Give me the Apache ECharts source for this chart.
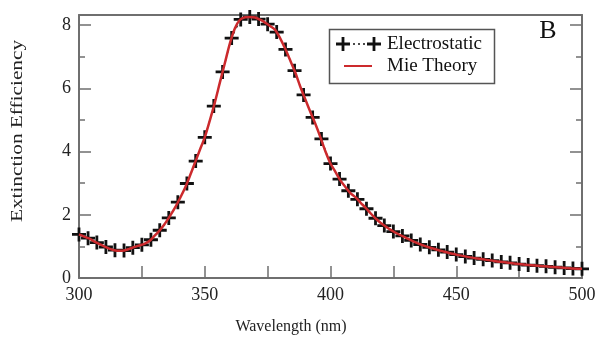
<!DOCTYPE html>
<html>
<head>
<meta charset="utf-8">
<script src="https://cdn.jsdelivr.net/npm/echarts@6/dist/echarts.min.js"></script>
<style>
html,body{margin:0;padding:0;background:#fff;}
#chart{width:600px;height:341px;}
</style>
</head>
<body>
<div id="chart"></div>
<script>
// Electrostatic (markers)
var esWavelength = [300.0,303.6,307.1,310.7,314.3,317.9,321.4,325.0,328.6,332.1,335.7,339.3,342.9,346.4,350.0,353.6,357.1,360.7,364.3,367.9,371.4,375.0,378.6,382.1,385.7,389.3,392.9,396.4,400.0,403.6,407.1,410.7,414.3,417.9,421.4,425.0,428.6,432.1,435.7,439.3,442.9,446.4,450.0,453.6,457.1,460.7,464.3,467.9,471.4,475.0,478.6,482.1,485.7,489.3,492.9,496.4,500.0];
var esValues = [1.38,1.26,1.12,0.98,0.88,0.87,0.96,1.05,1.21,1.51,1.90,2.40,2.99,3.70,4.45,5.44,6.52,7.59,8.18,8.26,8.19,8.03,7.78,7.23,6.56,5.79,5.08,4.40,3.62,3.13,2.76,2.49,2.19,1.89,1.66,1.47,1.33,1.19,1.06,0.97,0.89,0.82,0.74,0.68,0.63,0.59,0.55,0.51,0.48,0.44,0.41,0.39,0.37,0.34,0.32,0.30,0.29];
// Mie theory (line)
var mieWavelength = [300,302,304,306,308,310,312,314,316,318,320,322,324,326,328,330,332,334,336,338,340,342,344,346,348,350,352,354,356,358,360,362,364,366,368,370,372,374,376,378,380,382,384,386,388,390,392,394,396,398,400,402,404,406,408,410,412,414,416,418,420,425,430,435,440,445,450,455,460,465,470,475,480,485,490,495,500];
var mieValues = [1.38,1.31,1.25,1.16,1.08,1.00,0.93,0.88,0.86,0.87,0.92,0.98,1.03,1.08,1.17,1.33,1.50,1.70,1.94,2.20,2.50,2.82,3.21,3.62,4.04,4.45,4.98,5.55,6.18,6.80,7.42,7.90,8.17,8.25,8.26,8.24,8.17,8.08,7.97,7.85,7.58,7.25,6.88,6.50,6.05,5.65,5.25,4.87,4.45,4.00,3.62,3.35,3.08,2.87,2.68,2.55,2.38,2.22,2.04,1.88,1.74,1.47,1.27,1.09,0.95,0.84,0.74,0.66,0.60,0.54,0.49,0.44,0.40,0.37,0.34,0.31,0.29];
var xTickLabels = [300,350,400,450,500];
var yTickLabels = [0,2,4,6,8];
var seriesNames = ['Electrostatic','Mie Theory'];

var esData = esWavelength.map(function(x,i){return [x, esValues[i]];});
var mieData = mieWavelength.map(function(x,i){return [x, mieValues[i]];});

var serif = "'Liberation Serif','DejaVu Serif',serif";
var axisGray = '#6f6f6f';
var red = '#cc2a2d';
var plusPath = 'path://M8,0 h4 v8 h8 v4 h-8 v8 h-4 v-8 h-8 v-4 h8 z';

function plusPoints(cx, cy, s, t) {
  var h = s / 2, w = t / 2;
  return [[cx-w,cy-h],[cx+w,cy-h],[cx+w,cy-w],[cx+h,cy-w],[cx+h,cy+w],[cx+w,cy+w],
          [cx+w,cy+h],[cx-w,cy+h],[cx-w,cy+w],[cx-h,cy+w],[cx-h,cy-w],[cx-w,cy-w]];
}

var chart = echarts.init(document.getElementById('chart'), null, {renderer:'canvas'});
var option = {
  animation: false,
  backgroundColor: '#ffffff',
  grid: {left: 79, right: 18, top: 15, bottom: 63, containLabel: false},
  xAxis: [{
    type: 'value', min: 300, max: 500, interval: 50, position: 'bottom',
    axisLine: {show: true, onZero: false, lineStyle: {color: axisGray, width: 2}},
    axisTick: {show: true, inside: true, length: 12, lineStyle: {color: axisGray, width: 1.5}},
    minorTick: {show: true, splitNumber: 2, length: 12, lineStyle: {color: axisGray, width: 1.5}},
    splitLine: {show: false},
    axisLabel: {color: '#222', fontFamily: serif, fontSize: 18, margin: 8,
      formatter: function(v){ return xTickLabels.indexOf(v) >= 0 ? String(v) : ''; }}
  }, {
    type: 'value', min: 300, max: 500, position: 'top',
    axisLine: {show: true, onZero: false, lineStyle: {color: axisGray, width: 2}},
    axisTick: {show: false}, axisLabel: {show: false}, splitLine: {show: false}
  }],
  yAxis: [{
    type: 'value', min: 0, max: 8.32, interval: 2, position: 'left',
    axisLine: {show: true, onZero: false, lineStyle: {color: axisGray, width: 2}},
    axisTick: {show: true, inside: true, length: 12, lineStyle: {color: axisGray, width: 1.5}},
    minorTick: {show: true, splitNumber: 2, length: 6, lineStyle: {color: axisGray, width: 1.5}},
    splitLine: {show: false},
    axisLabel: {color: '#222', fontFamily: serif, fontSize: 18, margin: 8, showMaxLabel: false,
      formatter: function(v){ return yTickLabels.indexOf(v) >= 0 ? String(v) : ''; }}
  }, {
    type: 'value', min: 0, max: 8.32, interval: 2, position: 'right',
    axisLine: {show: true, onZero: false, lineStyle: {color: axisGray, width: 2}},
    axisTick: {show: true, inside: true, length: 12, lineStyle: {color: axisGray, width: 1.5}},
    minorTick: {show: true, splitNumber: 2, length: 6, lineStyle: {color: axisGray, width: 1.5}},
    splitLine: {show: false}, axisLabel: {show: false}
  }],
  series: [{
    name: seriesNames[0], type: 'line', xAxisIndex: 0, yAxisIndex: 0,
    data: esData, z: 2,
    symbol: plusPath, symbolSize: 14, showAllSymbol: true,
    itemStyle: {color: '#111'},
    lineStyle: {color: '#111', width: 1, type: [3, 4]}
  }, {
    name: seriesNames[1], type: 'line', xAxisIndex: 0, yAxisIndex: 0,
    data: mieData, z: 3, smooth: 0.3,
    symbol: 'none',
    lineStyle: {color: red, width: 2.5}
  }],
  graphic: [
    {type: 'text', x: 291, y: 327, style: {text: 'Wavelength (nm)', font: '16px ' + serif, fill: '#222', align: 'center', verticalAlign: 'middle'}},
    {type: 'text', x: 18, y: 131, rotation: Math.PI/2, scaleX: 1.33, style: {text: 'Extinction Efficiency', font: '16px ' + serif, fill: '#222', align: 'center', verticalAlign: 'middle'}},
    {type: 'text', x: 548, y: 31, style: {text: 'B', font: '26px ' + serif, fill: '#111', align: 'center', verticalAlign: 'middle'}},
    {type: 'rect', shape: {x: 329.5, y: 29.5, width: 165, height: 54}, style: {fill: '#fff', stroke: '#555', lineWidth: 1.5}, z: 10},
    {type: 'polygon', shape: {points: plusPoints(343, 44, 14, 2.8)}, style: {fill: '#111'}, z: 11},
    {type: 'polygon', shape: {points: plusPoints(374, 44, 14, 2.8)}, style: {fill: '#111'}, z: 11},
    {type: 'line', shape: {x1: 353, y1: 44, x2: 365, y2: 44}, style: {stroke: '#111', lineWidth: 1.5, lineDash: [2, 3]}, z: 11},
    {type: 'text', x: 387, y: 44, style: {text: seriesNames[0], font: '19px ' + serif, fill: '#111', verticalAlign: 'middle'}, z: 11},
    {type: 'line', shape: {x1: 344, y1: 66, x2: 372, y2: 66}, style: {stroke: red, lineWidth: 2}, z: 11},
    {type: 'text', x: 387, y: 66, style: {text: seriesNames[1], font: '19px ' + serif, fill: '#111', verticalAlign: 'middle'}, z: 11}
  ]
};
chart.setOption(option);
</script>
</body>
</html>
